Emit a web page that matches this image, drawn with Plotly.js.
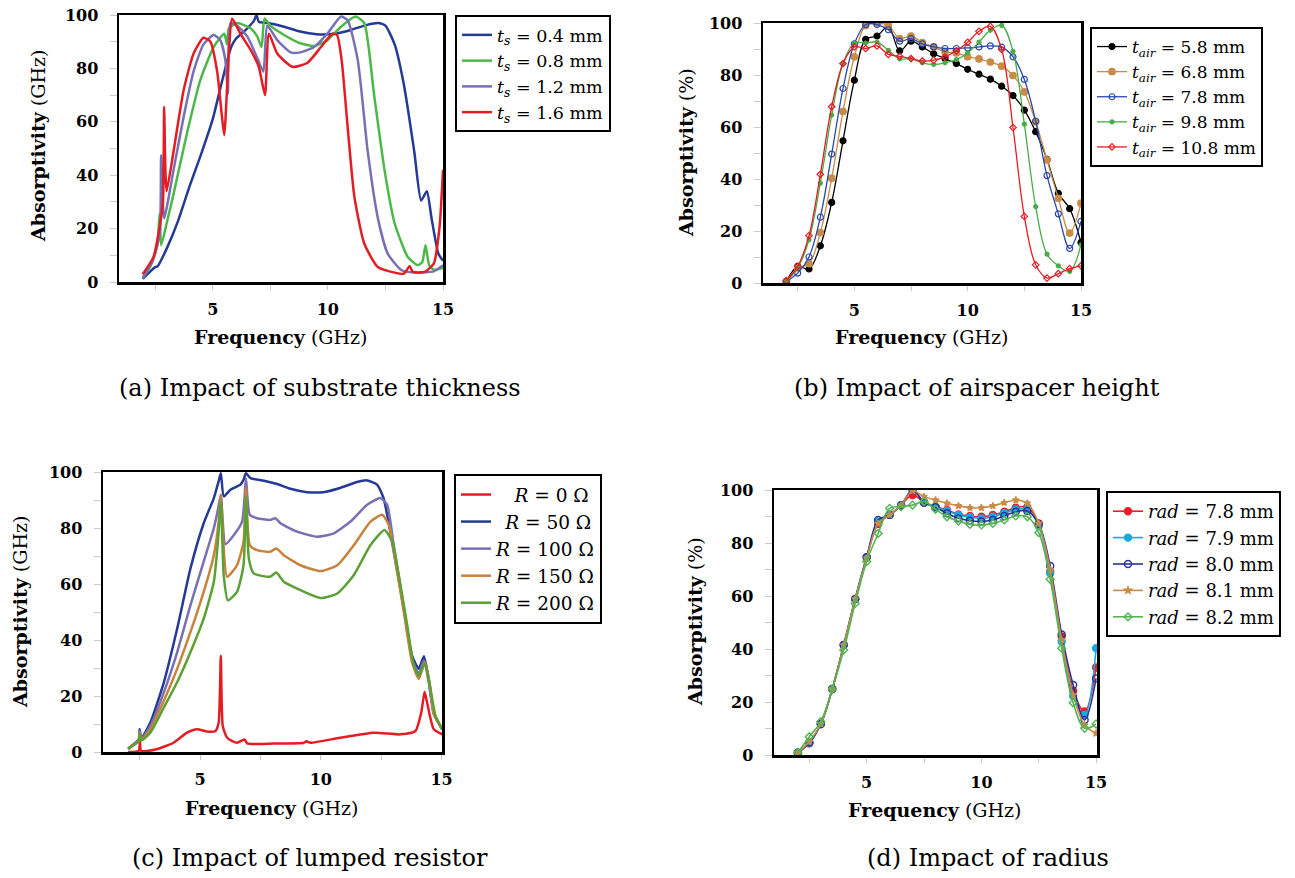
<!DOCTYPE html>
<html>
<head>
<meta charset="utf-8">
<script src="https://cdn.plot.ly/plotly-3.0.1.min.js"></script>
<style>html,body{margin:0;padding:0;background:#fff;}#chart{width:1295px;height:878px;}</style>
</head>
<body>
<div id="chart"></div>
<script>
// ---------- (a) Impact of substrate thickness ----------
const aX04 = [1.96,2.5,2.6,3.0,3.5,4.0,4.5,5.0,5.4,5.8,6.0,6.5,6.8,6.9,7.0,7.4,8.1,8.8,9.5,10.3,11.0,11.7,12.2,12.5,12.9,13.3,13.75,14.05,14.3,14.5,14.8,15.0];
const aY04 = [1.2,5.6,5.8,12.5,23,36,48,61,75,88,91,95,98,100,97.5,97,95.6,93.8,92.8,93,94.4,96.3,97,96,89,74,49,30.5,34,24,10.6,8];
const aX08 = [1.96,2.3,2.6,2.69,2.76,3.0,3.3,3.88,4.46,5.04,5.5,5.62,5.7,6.06,6.64,6.93,7.12,7.25,7.5,8.1,8.8,9.4,9.98,10.57,11.2,11.58,12.0,12.46,12.9,13.47,13.9,14.1,14.24,14.4,14.6,15];
const aY08 = [1.5,6,14,25.6,13.8,22,33,55.6,75.6,88,93,89,95,97,95,92,88,98.7,96,92.5,89.4,88.4,90.6,95.6,99.4,97,70.6,42,22,9.4,6.3,7.5,13.8,6.3,4.6,5.4];
const aX12 = [1.96,2.4,2.7,2.76,2.89,3.3,3.74,4.17,4.6,5.04,5.33,5.55,5.66,5.77,6.06,6.5,6.93,7.2,7.37,7.8,8.39,8.8,9.4,9.98,10.57,10.86,11.3,11.73,12.17,12.6,13.2,13.9,14.6,15];
const aY12 = [1.5,8,18,47.5,23.8,42,62,79,89,92.5,90.6,83,70.6,97,96,92,84,78.8,96,90.6,86,86,88,93,99.4,98,83,49,24,10.6,4.4,3.5,4,6.3];
const aX16 = [1.96,2.43,2.72,2.84,2.89,2.95,3.0,3.3,3.74,4.17,4.6,4.9,5.19,5.4,5.5,5.7,5.84,6.2,6.64,7.0,7.27,7.44,7.8,8.46,9.1,9.7,10.2,10.4,10.6,10.86,11.15,11.58,12.17,12.9,13.3,13.55,13.69,14.2,14.6,14.85,15];
const aY16 = [2.9,9.4,22,30,65.6,40,34,49,72,85.6,91.5,90,79,62,55,85.6,98.7,93,87,80.6,70,93,85.6,80.6,82,88,93,92.5,83,58,32,14.4,5.6,3.5,3.1,5.9,3.8,3.8,6.9,20.6,42];
const aNames = ['<i>t<sub>s</sub></i> = 0.4 mm','<i>t<sub>s</sub></i> = 0.8 mm','<i>t<sub>s</sub></i> = 1.2 mm','<i>t<sub>s</sub></i> = 1.6 mm'];

// ---------- (b) Impact of airspacer height ----------
const bFreq = [2,2.5,3,3.5,4,4.5,5,5.5,6,6.5,7,7.5,8,8.5,9,9.5,10,10.5,11,11.5,12,12.5,13,13.5,14,14.5,15];
const bY58 = [0.6,6.4,5.4,14.3,31,54.7,78,93.7,95,98.7,89.3,93,90.8,88.2,86.3,84.4,82.2,80.3,78.4,75.7,72.1,66.5,58.2,47.6,34.5,28.6,15.6];
const bY68 = [0.6,5.8,7.4,19.4,40.3,66,87,99,100,99,94,95,92.5,90.8,88.9,88.5,87,86.2,85,83.4,79.8,73.5,62,47.3,32.6,19.2,30.7];
const bY78 = [0.6,3.8,10,25.3,49.6,74.8,92,99.4,99.4,97.4,93,94,92,90.8,90.2,90.2,90.4,90.8,91.2,90.7,87,78.3,62.3,41.3,26.6,13.3,23.7];
const bY98 = [0.6,5.8,16.6,38.4,64.6,84.4,92.3,92.3,92.7,89.5,86.2,86.3,84.7,84.1,84.7,85.9,88.5,92.7,97.2,99.1,89.1,61.1,29.4,11.1,6.6,4.5,14.7];
const bY108 = [0.9,6.4,18.2,41.8,67.8,84.4,90.8,90.2,91.2,87.9,87.2,86.3,85.4,85.7,87,89.3,92.6,96.8,98.7,89.8,59.8,25.6,7,1.9,3.6,5.5,6.6];
const bNames = ['<i>t<sub>air</sub></i> = 5.8 mm','<i>t<sub>air</sub></i> = 6.8 mm','<i>t<sub>air</sub></i> = 7.8 mm','<i>t<sub>air</sub></i> = 9.8 mm','<i>t<sub>air</sub></i> = 10.8 mm'];

// ---------- (c) Impact of lumped resistor ----------
const cX0 = [2.02,2.46,2.51,2.56,3.2,3.9,4.46,4.88,5.29,5.64,5.77,5.86,5.94,6.12,6.53,6.84,6.95,8.05,9.3,9.4,9.57,10.8,12.2,13.3,13.92,14.16,14.3,14.43,14.68,15.03];
const cY0 = [0,0.4,4,0.4,1,3.3,6.9,8.1,7.3,7.5,10.5,34.4,9.3,5.1,3.3,4.5,3.1,3,3.3,3.8,3.3,5.1,6.9,6.3,7.5,14.1,21.5,16.5,8.1,6.3];
const cX50 = [2.02,2.46,2.5,2.56,2.94,3.5,4.05,4.6,5.15,5.57,5.77,5.86,5.98,6.26,6.67,6.8,6.9,7.09,7.64,8.19,8.74,9.43,10.1,10.8,11.5,11.92,12.33,12.6,13.0,13.44,13.78,14.06,14.27,14.47,14.68,15.03];
const cY50 = [1.2,4.5,8.1,4.8,10.5,24.9,44,65.5,81.7,90.7,96.7,99.6,91.3,93.7,95.5,97.2,99.6,97.8,96.9,95.7,94,92.8,92.8,94.3,96.4,97,95.5,90.7,72.7,51.2,34.4,29.7,34.2,26,14.1,8.1];
const cX100 = [2.02,2.46,2.5,2.56,2.94,3.5,4.05,4.6,5.15,5.57,5.75,5.86,6.05,6.4,6.74,6.84,6.9,7.06,7.36,7.9,8.12,8.33,9.02,9.85,10.54,11.23,11.92,12.47,12.75,13.0,13.44,13.78,14.06,14.27,14.47,14.68,15.03];
const cY100 = [1.2,4.3,7.5,4.5,9.3,21.3,35.6,52.4,68,80,87,91.9,74.2,77.5,82.3,90.7,97.8,84.7,83.5,82.9,83.5,81.7,78.7,76.9,78.1,82.3,88.3,90.7,88.3,75.1,51.2,33.3,27.9,32.7,24.9,13.5,8.1];
const cX150 = [2.02,2.46,2.5,2.56,2.94,3.5,4.05,4.6,5.15,5.57,5.77,5.86,5.94,6.12,6.53,6.8,6.9,7.06,7.36,7.9,8.16,8.47,9.16,9.99,10.68,11.37,12.06,12.54,12.82,13.09,13.44,13.78,14.06,14.31,14.52,14.68,15.03];
const cY150 = [1.2,4.1,7,4.3,8.1,18.3,29.7,42.8,57.2,70.3,82.3,91.9,78.7,62.6,66.7,75.1,94.3,73.9,72.1,71.5,72.7,70.3,66.7,64.6,66.7,73.9,82.3,84.7,81.1,67.9,50,32.1,26.1,32.1,23.7,13.5,8.1];
const cX200 = [2.02,2.46,2.5,2.56,2.94,3.5,4.05,4.6,5.15,5.57,5.75,5.86,5.98,6.15,6.53,6.8,6.9,7.02,7.22,7.9,8.16,8.47,9.16,9.99,10.68,11.37,12.06,12.64,12.96,13.23,13.58,13.85,14.06,14.31,14.52,14.75,15.03];
const cY200 = [1.2,3.9,6.5,4.1,6.9,15.9,24.9,35.6,47.6,60.8,76.3,89.5,63.2,54.2,57.2,66.7,91.3,69.1,63.8,62.6,64.1,60.8,57.8,55,56.6,63.2,73.9,79.3,75.1,63.2,45.2,30.9,27.3,31.5,23.7,12.9,8.1];
const cNames = ['\u2002\u2002<i>R</i> = 0 Ω','\u2002<i>R</i> = 50 Ω','<i>R</i> = 100 Ω','<i>R</i> = 150 Ω','<i>R</i> = 200 Ω'];

// ---------- (d) Impact of radius ----------
const dFreq = [2,2.5,3,3.5,4,4.5,5,5.5,6,6.5,7,7.5,8,8.5,9,9.5,10,10.5,11,11.5,12,12.5,13,13.5,14,14.5,15];
const dY78 = [0.9,4.4,11.7,24.9,41.5,58.9,74.6,87.2,90.6,94.3,98.1,95.3,93.7,92.5,90.8,90.2,89.9,90.6,91.8,93.3,93.5,87.4,69.2,44.7,24.2,16.4,33];
const dY79 = [0.9,4.7,11.7,24.9,41.5,58.9,74.6,88,90.6,94.3,100,95.6,93.7,92.1,90.6,89.7,89.3,89.9,91.2,92.7,92.7,86.4,68.6,42.8,22.3,15.1,40.3];
const dY80 = [0.9,4.7,11.7,24.9,41.5,58.9,74.6,88.7,90.6,94.3,100,95.2,93.5,91.2,89.3,88.4,88.1,88.7,90.2,91.8,92.1,87.2,71.3,45.5,26.4,13.2,28.9];
const dY81 = [0.9,5.1,11.7,24.9,41.5,58.9,74.2,87.4,90.6,94.3,99.7,97.5,96.2,95,94,93.3,93.3,94,95.2,96.2,95,87.4,69.8,43.4,22.6,11.3,8.2];
const dY82 = [0.9,6.9,12.6,24.9,39.6,57.2,73,83.6,93.1,93.7,94.3,95.6,92.7,89.9,88.3,87,86.8,87.4,88.7,90.2,89.9,83.9,66.3,40.3,19.7,10.1,11.7];
const dNames = ['<i>rad</i> = 7.8 mm','<i>rad</i> = 7.9 mm','<i>rad</i> = 8.0 mm','<i>rad</i> = 8.1 mm','<i>rad</i> = 8.2 mm'];

const captions = ['(a) Impact of substrate thickness','(b) Impact of airspacer height','(c) Impact of lumped resistor','(d) Impact of radius'];
const xTitle = '<b>Frequency</b> (GHz)';
const yTitles = ['<b>Absorptivity</b> (GHz)','<b>Absorptivity</b> (%)','<b>Absorptivity</b> (GHz)','<b>Absorptivity</b> (%)'];

// ---------- build ----------
const W = 1295, H = 878;
const SERIF = '"DejaVu Serif", "Liberation Serif", serif';
function px(x){return x/W;}
function py(y){return 1 - y/H;}

const traces = [];
function lineTrace(x,y,name,color,k,width,smooth){
  return {x:x,y:y,name:name,type:'scatter',mode:'lines',
    line:{color:color,width:width,shape:'spline',smoothing:smooth},
    xaxis:k===1?'x':'x'+k, yaxis:k===1?'y':'y'+k, legend:k===1?'legend':'legend'+k};
}
function mkTrace(x,y,name,color,k,width,sym,size,lw){
  const t = lineTrace(x,y,name,color,k,width,1);
  t.mode='lines+markers';
  t.marker={symbol:sym,size:size,color:color,line:{color:color,width:lw}};
  return t;
}
const aCol = ['rgb(36,58,148)','rgb(76,184,72)','rgb(120,112,180)','rgb(228,28,36)'];
[[aX04,aY04],[aX08,aY08],[aX12,aY12],[aX16,aY16]].forEach((d,i)=>traces.push(lineTrace(d[0],d[1],aNames[i],aCol[i],1,2.5,0.55)));

const bCol = ['black','rgb(200,140,72)','rgb(40,72,170)','rgb(72,172,72)','rgb(230,30,36)'];
const bSym = ['circle','circle','circle-open','circle','diamond-open'];
const bSize = [6,6.5,6,4,5];
[bY58,bY68,bY78,bY98,bY108].forEach((y,i)=>traces.push(mkTrace(bFreq,y,bNames[i],bCol[i],2,1.3,bSym[i],bSize[i],1.2)));

const cCol = ['rgb(228,28,36)','rgb(36,58,148)','rgb(120,112,180)','rgb(200,130,60)','rgb(92,160,52)'];
[[cX0,cY0],[cX50,cY50],[cX100,cY100],[cX150,cY150],[cX200,cY200]].forEach((d,i)=>traces.push(lineTrace(d[0],d[1],cNames[i],cCol[i],3,2.5,0.55)));

const dCol = ['rgb(232,30,40)','rgb(20,170,228)','rgb(40,50,150)','rgb(200,140,72)','rgb(84,180,84)'];
const dSym = ['circle','circle','circle-open','star','diamond-open'];
const dSize = [7,7,7,5,6];
[dY78,dY79,dY80,dY81,dY82].forEach((y,i)=>traces.push(mkTrace(dFreq,y,dNames[i],dCol[i],4,1.6,dSym[i],dSize[i],1.4)));

const tickFont = {family:SERIF,size:16,weight:'bold',color:'black'};
function xAx(dom,rng){
  return {domain:dom,range:rng,tick0:0,dtick:5,ticks:'outside',ticklen:5,tickwidth:1,tickcolor:'#c8c8c8',
    minor:{dtick:2.5,tick0:0,ticks:'outside',ticklen:5,tickwidth:1,tickcolor:'#c8c8c8'},
    showline:true,mirror:true,linewidth:2.5,linecolor:'black',showgrid:false,zeroline:false,
    tickfont:tickFont,ticklabelstandoff:6,fixedrange:true};
}
function yAx(dom,rng){
  return {domain:dom,range:rng,tick0:0,dtick:20,ticks:'outside',ticklen:7,tickwidth:1,tickcolor:'#c8c8c8',
    minor:{dtick:10,tick0:0,ticks:'outside',ticklen:7,tickwidth:1,tickcolor:'#c8c8c8'},
    showline:true,mirror:true,linewidth:2.5,linecolor:'black',showgrid:false,zeroline:false,
    tickfont:tickFont,ticklabelstandoff:8,fixedrange:true};
}
// plot frames in pixels: [left,right,top,bottom]
const frames = [[119,443,15,282],[763,1081,23,283],[103,442,472,752],[774,1097,490,755]];
const xr = [[0.93,15],[0.97,15],[0.98,15.02],[0.96,15.04]];
const layout = {width:W,height:H,margin:{l:0,r:0,t:0,b:0},paper_bgcolor:'white',plot_bgcolor:'white',
  showlegend:true,font:{family:SERIF,color:'black'},annotations:[]};
frames.forEach((f,i)=>{
  const k = i===0?'':String(i+1);
  layout['xaxis'+k] = xAx([px(f[0]),px(f[1])],xr[i]);
  layout['yaxis'+k] = yAx([py(f[3]),py(f[2])],[0,100]);
  layout['xaxis'+k].anchor = 'y'+k;
  layout['yaxis'+k].anchor = 'x'+k;
});
const legPos = [[455,15],[1090,27],[454,474],[1106,491]];
const legSize = [17.5,17,18.5,18];
legPos.forEach((p,i)=>{
  const k = i===0?'':String(i+1);
  layout['legend'+k] = {x:px(p[0]),y:py(p[1]),xanchor:'left',yanchor:'top',bgcolor:'white',
    bordercolor:'black',borderwidth:2,font:{family:SERIF,size:legSize[i],color:'black'},itemwidth:30,tracegroupgap:0};
});
// axis titles and captions
const xTitlePos = [[281,337],[922,337],[272,808],[935,810]];
const yTitlePos = [[38,146],[686,153],[20,612],[695,622]];
const capPos = [[320,388],[977,388],[310,858],[988,858]];
for(let i=0;i<4;i++){
  layout.annotations.push({text:xTitle,x:px(xTitlePos[i][0]),y:py(xTitlePos[i][1]),xref:'paper',yref:'paper',
    showarrow:false,xanchor:'center',yanchor:'middle',font:{family:SERIF,size:19,color:'black'}});
  layout.annotations.push({text:yTitles[i],x:px(yTitlePos[i][0]),y:py(yTitlePos[i][1]),xref:'paper',yref:'paper',
    showarrow:false,xanchor:'center',yanchor:'middle',textangle:-90,font:{family:SERIF,size:19,color:'black'}});
  layout.annotations.push({text:captions[i],x:px(capPos[i][0]),y:py(capPos[i][1]),xref:'paper',yref:'paper',
    showarrow:false,xanchor:'center',yanchor:'middle',font:{family:SERIF,size:24,color:'black'}});
}
Plotly.newPlot('chart',traces,layout,{staticPlot:true,displayModeBar:false});
</script>
</body>
</html>
